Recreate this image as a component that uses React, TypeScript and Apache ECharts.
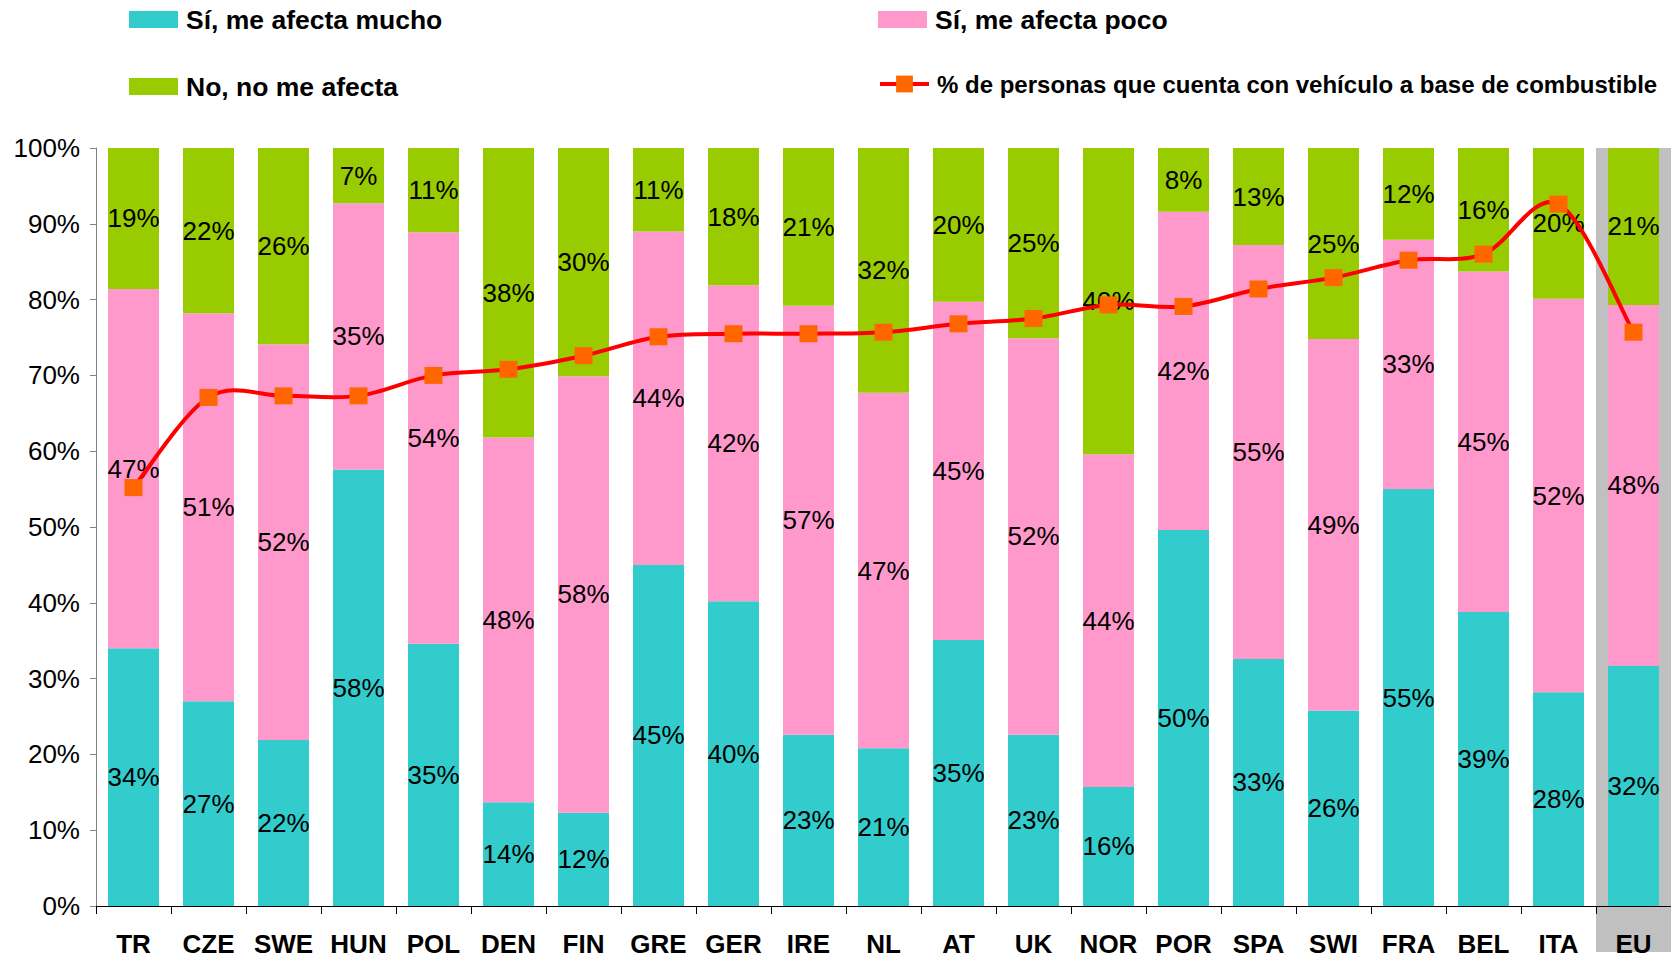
import React, { useEffect, useRef } from "react";
import * as echarts from "echarts";

const categories = ["TR", "CZE", "SWE", "HUN", "POL", "DEN", "FIN", "GRE", "GER", "IRE", "NL", "AT", "UK", "NOR", "POR", "SPA", "SWI", "FRA", "BEL", "ITA", "EU"];
const muchoValues = [34.0, 27.0, 21.9, 57.6, 34.6, 13.7, 12.3, 45.0, 40.2, 22.6, 20.8, 35.1, 22.6, 15.7, 49.6, 32.6, 25.8, 55.0, 38.8, 28.2, 31.7];
const pocoValues = [47.4, 51.2, 52.2, 35.1, 54.3, 48.1, 57.6, 44.0, 41.7, 56.6, 46.9, 44.6, 52.3, 43.9, 42.0, 54.6, 49.0, 32.9, 44.9, 51.9, 47.6];
const noValues = [18.6, 21.8, 25.9, 7.3, 11.1, 38.2, 30.1, 11.0, 18.1, 20.8, 32.3, 20.3, 25.1, 40.4, 8.4, 12.8, 25.2, 12.1, 16.3, 19.9, 20.7];
const vehicleValues = [55.2, 67.1, 67.3, 67.3, 70.0, 70.8, 72.6, 75.1, 75.5, 75.5, 75.7, 76.8, 77.5, 79.3, 79.1, 81.4, 82.9, 85.2, 86.0, 92.6, 75.7];

const seriesNames = [
  "Sí, me afecta mucho",
  "Sí, me afecta poco",
  "No, no me afecta",
  "% de personas que cuenta con vehículo a base de combustible",
];
const highlightCategory = "EU";

const FONT = "'Liberation Sans', Arial, sans-serif";
const LINE_COLOR = "#FF0000";
const LINE_WIDTH = 4;

export default function App() {
  const ref = useRef<HTMLDivElement>(null);

  useEffect(() => {
    if (!ref.current) return;
    const chart = echarts.init(ref.current, undefined, { renderer: "svg" });

    const barLabel = {
      show: true,
      position: "inside",
      color: "#000",
      fontSize: 26,
      fontFamily: FONT,
      formatter: (p: any) => Math.round(p.value) + "%",
    };

    const legendText = (size: number) => ({
      fontSize: size,
      lineHeight: 26,
      fontWeight: "bold",
      color: "#000",
      fontFamily: FONT,
      padding: [0, 0, 0, 3],
    });

    const baseLegend = { padding: 0, selectedMode: false, itemGap: 0 };

    // Catmull-Rom style smoothed curve (Excel "smoothed line"), drawn segment by segment
    const renderCurve = (params: any, api: any) => {
      const i = params.dataIndex;
      const n = vehicleValues.length;
      if (i >= n - 1) return null;
      const pt = (k: number) => {
        const kk = Math.max(0, Math.min(n - 1, k));
        return api.coord([kk, vehicleValues[kk]]);
      };
      const p0 = pt(i - 1);
      const p1 = pt(i);
      const p2 = pt(i + 1);
      const p3 = pt(i + 2);
      const t = 1 / 6;
      return {
        type: "bezierCurve",
        shape: {
          x1: p1[0],
          y1: p1[1],
          x2: p2[0],
          y2: p2[1],
          cpx1: p1[0] + (p2[0] - p0[0]) * t,
          cpy1: p1[1] + (p2[1] - p0[1]) * t,
          cpx2: p2[0] - (p3[0] - p1[0]) * t,
          cpy2: p2[1] - (p3[1] - p1[1]) * t,
        },
        style: { stroke: LINE_COLOR, lineWidth: LINE_WIDTH, fill: null },
      };
    };

    chart.setOption({
      animation: false,
      backgroundColor: "#fff",
      legend: [
        { ...baseLegend, data: [seriesNames[0]], left: 129, top: 6, itemWidth: 49, itemHeight: 17, icon: "rect", textStyle: legendText(26.5) },
        { ...baseLegend, data: [seriesNames[1]], left: 878, top: 6, itemWidth: 49, itemHeight: 17, icon: "rect", textStyle: legendText(26.5) },
        { ...baseLegend, data: [seriesNames[2]], left: 129, top: 73, itemWidth: 49, itemHeight: 17, icon: "rect", textStyle: legendText(26.5) },
        {
          ...baseLegend,
          data: [seriesNames[3]],
          left: 878,
          top: 71,
          itemWidth: 49,
          itemHeight: 21,
          textStyle: legendText(24),
          lineStyle: { color: LINE_COLOR, width: LINE_WIDTH, opacity: 1 },
        },
      ],
      grid: { left: 96, right: 0, top: 148, bottom: 52, containLabel: false },
      xAxis: {
        type: "category",
        data: categories,
        boundaryGap: true,
        axisLine: { lineStyle: { color: "#000", width: 1 } },
        axisTick: { show: true, length: 8, lineStyle: { color: "#000" } },
        axisLabel: { fontSize: 26, fontWeight: "bold", color: "#000", fontFamily: FONT, margin: 25, interval: 0 },
      },
      yAxis: {
        type: "value",
        min: 0,
        max: 100,
        interval: 10,
        axisLine: { show: true, lineStyle: { color: "#808080", width: 1 } },
        axisTick: { show: true, length: 6, lineStyle: { color: "#808080" } },
        splitLine: { show: false },
        axisLabel: { fontSize: 26, color: "#000", fontFamily: FONT, margin: 16, formatter: "{value}%" },
      },
      series: [
        {
          name: seriesNames[0],
          type: "bar",
          stack: "total",
          data: muchoValues,
          barWidth: 51,
          itemStyle: { color: "#33CCCC" },
          label: barLabel,
        },
        {
          name: seriesNames[1],
          type: "bar",
          stack: "total",
          data: pocoValues,
          barWidth: 51,
          itemStyle: { color: "#FF99CC" },
          label: barLabel,
        },
        {
          name: seriesNames[2],
          type: "bar",
          stack: "total",
          data: noValues,
          barWidth: 51,
          itemStyle: { color: "#99CC00" },
          label: barLabel,
        },
        {
          name: "curve",
          type: "custom",
          data: vehicleValues.map((v, i) => [i, v]),
          renderItem: renderCurve,
          encode: { x: 0, y: 1 },
          silent: true,
          z: 4,
        },
        {
          name: seriesNames[3],
          type: "line",
          data: vehicleValues,
          symbol: "rect",
          symbolSize: [18, 17],
          lineStyle: { color: LINE_COLOR, width: LINE_WIDTH, opacity: 0 },
          itemStyle: { color: "#FF6600" },
          z: 5,
        },
      ],
    });

    // Grey highlight band behind the EU column, derived from the axis scales
    const idx = categories.indexOf(highlightCategory);
    const cx = chart.convertToPixel({ xAxisIndex: 0 }, highlightCategory) as number;
    const prev = chart.convertToPixel({ xAxisIndex: 0 }, categories[idx - 1]) as number;
    const band = cx - prev;
    const yTop = chart.convertToPixel({ yAxisIndex: 0 }, 100) as number;
    const yZero = chart.convertToPixel({ yAxisIndex: 0 }, 0) as number;
    chart.setOption({
      graphic: [
        {
          type: "rect",
          z: -1,
          silent: true,
          shape: { x: cx - band / 2, y: yTop, width: band, height: yZero - yTop + 46 },
          style: { fill: "#C0C0C0" },
        },
      ],
    });

    return () => chart.dispose();
  }, []);

  return (
    <div
      ref={ref}
      style={{ position: "fixed", left: 0, top: 0, width: 1671, height: 958, background: "#fff" }}
    />
  );
}
